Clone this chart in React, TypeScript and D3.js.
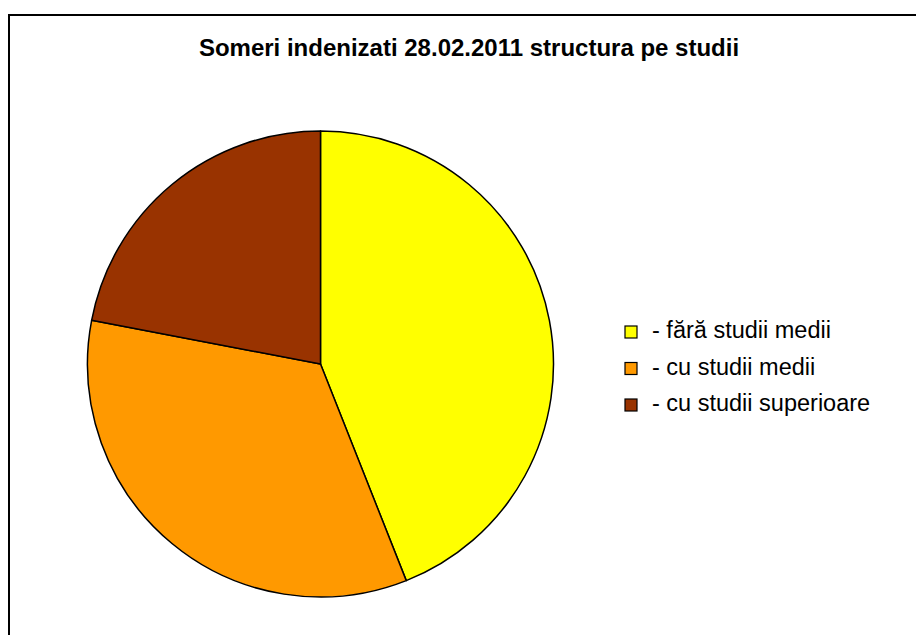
import React from "react";
import * as d3 from "d3";

const categories = ["- fără studii medii", "- cu studii medii", "- cu studii superioare"];
const values = [44, 34, 22];
const colors = ["#FFFF00", "#FF9900", "#993300"];
const title = "Someri indenizati 28.02.2011 structura pe studii";

export default function App() {
  const W = 916, H = 635;
  const cx = 320.5, cy = 364, r = 233;
  const pie = d3.pie<number>().sort(null).value(d => d)(values);
  const arc = d3.arc<d3.PieArcDatum<number>>().innerRadius(0).outerRadius(r);
  const legendY = d3.scalePoint<number>().domain(d3.range(categories.length)).range([332, 405]);
  return (
    <svg width={W} height={H} style={{ position: "fixed", left: 0, top: 0, background: "#fff" }}
      fontFamily="'Liberation Sans', Arial, sans-serif">
      <rect x={0} y={0} width={W} height={H} fill="#fff" />
      <rect x={9} y={15} width={W + 20} height={H + 20} fill="none" stroke="#000" strokeWidth={2} />
      <text x={469} y={56} textAnchor="middle" fontWeight="bold" fontSize={24} fill="#000">{title}</text>
      <g transform={`translate(${cx},${cy})`}>
        {pie.map((p, i) => (
          <path key={i} d={arc(p) || ""} fill={colors[i]} stroke="#000" strokeWidth={1.5} strokeLinejoin="round" />
        ))}
      </g>
      {categories.map((c, i) => (
        <g key={c} transform={`translate(0,${legendY(i)})`}>
          <rect x={625} y={-6} width={12} height={12} fill={colors[i]} stroke="#000" strokeWidth={1.2} />
          <text x={652} y={6} fontSize={23.5} fill="#000">{c}</text>
        </g>
      ))}
    </svg>
  );
}
